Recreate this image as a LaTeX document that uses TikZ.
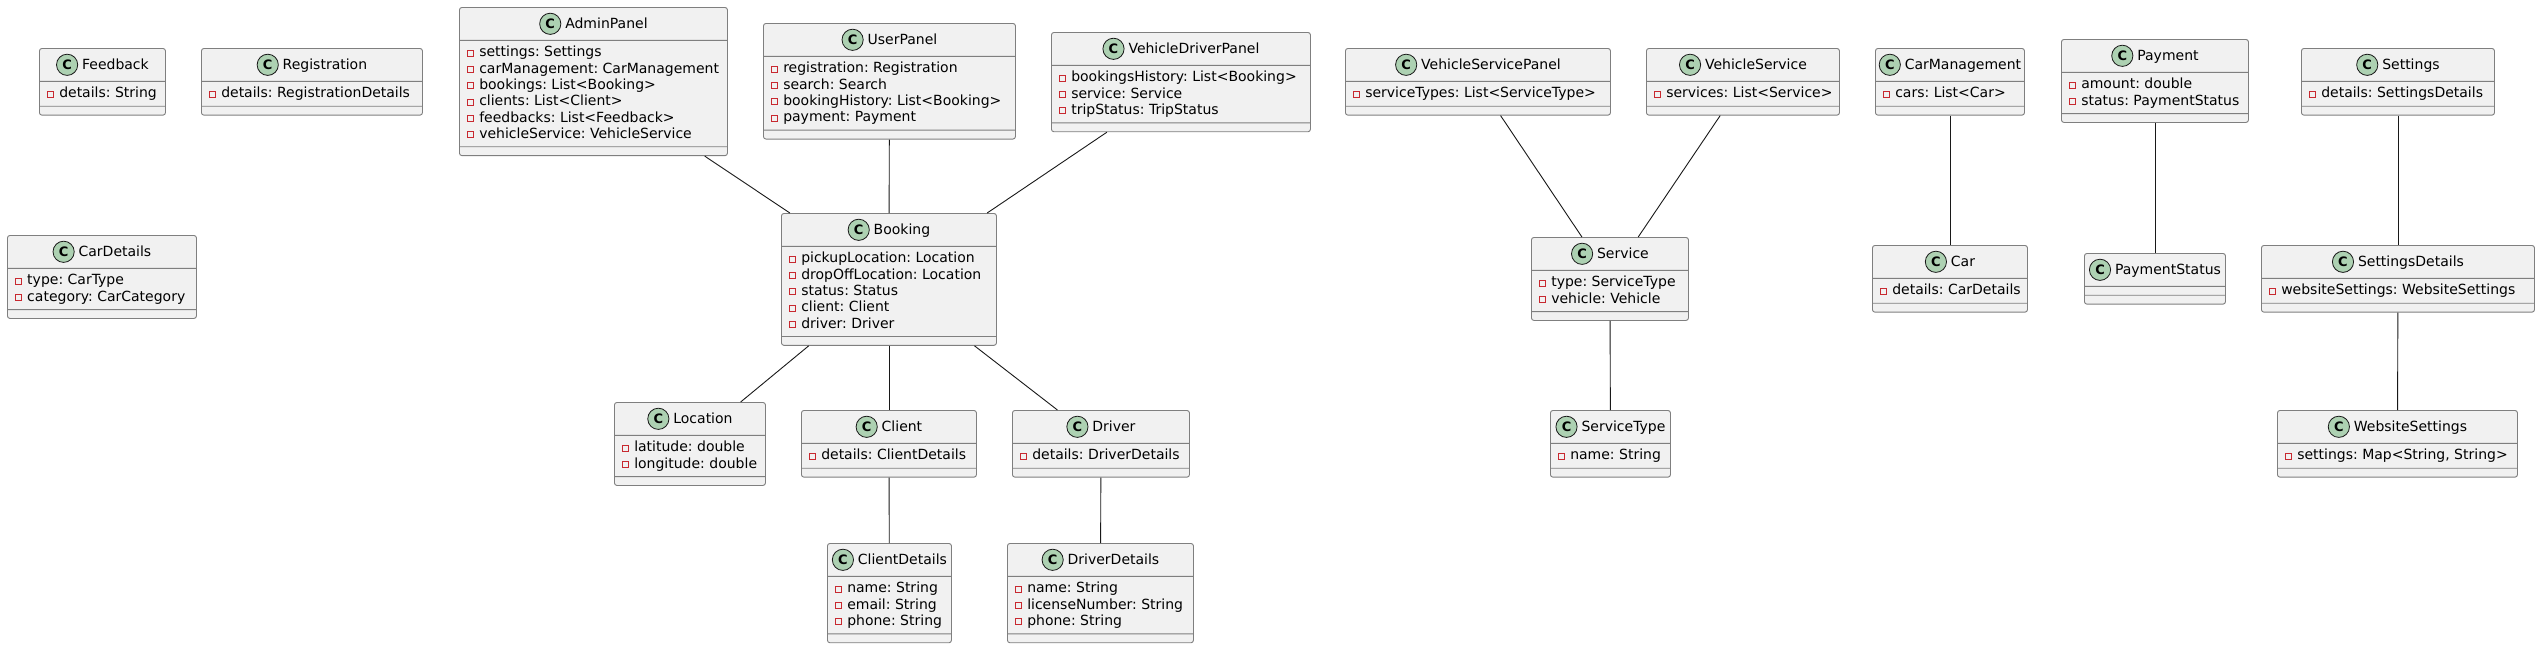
\documentclass[tikz,border=0pt]{standalone}
\usepackage{fontspec}
\setmainfont{DejaVu Sans}
\usetikzlibrary{shapes.multipart}
\frenchspacing

\definecolor{boxfill}{HTML}{F1F1F1}
\definecolor{boxline}{HTML}{7F7F7F}
\definecolor{linkline}{HTML}{181818}
\definecolor{iconfill}{HTML}{ADD1B2}
\definecolor{privred}{HTML}{C82930}

\tikzset{
  classbox/.style={rectangle split, rectangle split parts=3,
    rectangle split part align={center,left,left},
    draw=boxline, line width=0.9pt, fill=boxfill, rounded corners=2.5pt,
    inner xsep=0pt, inner ysep=0pt, anchor=north west,
    font=\fontsize{14}{16.3}\selectfont},
  link/.style={draw=linkline, line width=0.9pt}
}

% class icon and private field marker
\newcommand{\classicon}{\tikz[baseline=-5.1pt]\filldraw[draw=linkline,fill=iconfill,line width=0.8pt] (0pt,0pt) circle[radius=10.6pt];\llap{\makebox[22pt]{\fontsize{13}{13}\selectfont\bfseries C}}}
\newcommand{\pv}{\tikz[baseline=-0.8pt]\draw[privred,line width=0.8pt,sharp corners] (0pt,0pt) rectangle (6pt,6pt);\hspace{5pt}}
\newcommand{\classtitle}[1]{\rule[-11pt]{0pt}{32pt}\classicon\hspace{4pt}#1}
\newcommand{\attrlist}[1]{\begin{tabular}{@{\hspace{8pt}}l@{}}\rule{0pt}{16pt}#1\rule[-8pt]{0pt}{8pt}\end{tabular}}
\newcommand{\umlclass}[5]{\node[classbox, minimum width=#3pt] (#1) at #2
  {\classtitle{#4}\nodepart{two}\attrlist{#5}\nodepart{three}\rule{0pt}{8pt}};}

\begin{document}
\begin{tikzpicture}[x=1pt,y=-1pt]
  \useasboundingbox (0,0) rectangle (2540,645);

  % Draw the classes on the left
  \umlclass{feedback}{(39,48)}{126}{Feedback}{\pv details: String}
  \umlclass{registration}{(201,48)}{221}{Registration}{\pv details: RegistrationDetails}
  \umlclass{cardetails}{(7,235)}{189}{CarDetails}{\pv type: CarType\\ \pv category: CarCategory}

  % Draw the panels
  \umlclass{admin}{(459,7)}{268}{AdminPanel}{\pv settings: Settings\\ \pv carManagement: CarManagement\\
    \pv bookings: List<Booking>\\ \pv clients: List<Client>\\ \pv feedbacks: List<Feedback>\\
    \pv vehicleService: VehicleService}
  \umlclass{user}{(763,23)}{252}{UserPanel}{\pv registration: Registration\\ \pv search: Search\\
    \pv bookingHistory: List<Booking>\\ \pv payment: Payment}
  \umlclass{vdriver}{(1051,32)}{259}{VehicleDriverPanel}{\pv bookingsHistory: List<Booking>\\
    \pv service: Service\\ \pv tripStatus: TripStatus}

  % Draw the booking and its parts
  \umlclass{booking}{(781,213)}{215}{Booking}{\pv pickupLocation: Location\\ \pv dropOffLocation: Location\\
    \pv status: Status\\ \pv client: Client\\ \pv driver: Driver}
  \umlclass{location}{(614,402)}{151}{Location}{\pv latitude: double\\ \pv longitude: double}
  \umlclass{client}{(801,410)}{175}{Client}{\pv details: ClientDetails}
  \umlclass{driver}{(1012,410)}{177}{Driver}{\pv details: DriverDetails}
  \umlclass{clientdetails}{(827,543)}{124}{ClientDetails}{\pv name: String\\ \pv email: String\\ \pv phone: String}
  \umlclass{driverdetails}{(1007,543)}{186}{DriverDetails}{\pv name: String\\ \pv licenseNumber: String\\ \pv phone: String}

  % Draw the services, cars, payment and settings
  \umlclass{vspanel}{(1345,48)}{265}{VehicleServicePanel}{\pv serviceTypes: List<ServiceType>}
  \umlclass{vservice}{(1646,48)}{193}{VehicleService}{\pv services: List<Service>}
  \umlclass{service}{(1531,237)}{157}{Service}{\pv type: ServiceType\\ \pv vehicle: Vehicle}
  \umlclass{servicetype}{(1550,410)}{120}{ServiceType}{\pv name: String}
  \umlclass{carmgmt}{(1875,48)}{149}{CarManagement}{\pv cars: List<Car>}
  \umlclass{car}{(1872,245)}{155}{Car}{\pv details: CarDetails}
  \umlclass{payment}{(2061,39)}{187}{Payment}{\pv amount: double\\ \pv status: PaymentStatus}
  \node[classbox, minimum width=141pt] (paystatus) at (2084,253)
    {\classtitle{PaymentStatus}\nodepart{two}\rule{0pt}{8pt}\nodepart{three}\rule{0pt}{8pt}};
  \umlclass{settings}{(2301,48)}{193}{Settings}{\pv details: SettingsDetails}
  \umlclass{settingsdetails}{(2261,245)}{273}{SettingsDetails}{\pv websiteSettings: WebsiteSettings}
  \umlclass{websettings}{(2277,410)}{240}{WebsiteSettings}{\pv settings: Map<String, String>}

  % Draw the associations
  \draw[link] (admin) -- (booking);
  \draw[link] (user) -- (booking);
  \draw[link] (vdriver) -- (booking);
  \draw[link] (booking) -- (location);
  \draw[link] (booking) -- (client);
  \draw[link] (booking) -- (driver);
  \draw[link] (client) -- (clientdetails);
  \draw[link] (driver) -- (driverdetails);
  \draw[link] (vspanel) -- (service);
  \draw[link] (vservice) -- (service);
  \draw[link] (service) -- (servicetype);
  \draw[link] (carmgmt) -- (car);
  \draw[link] (payment) -- (paystatus);
  \draw[link] (settings) -- (settingsdetails);
  \draw[link] (settingsdetails) -- (websettings);
\end{tikzpicture}
\end{document}
